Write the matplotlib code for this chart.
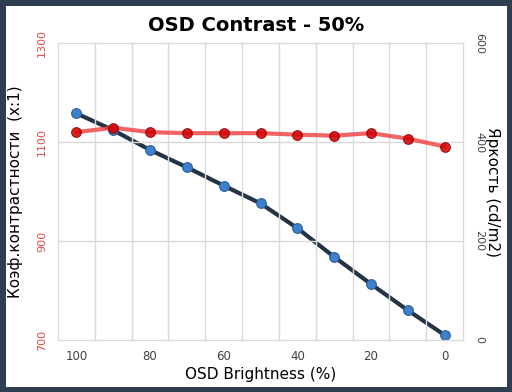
import numpy as np
import matplotlib.pyplot as plt
from matplotlib.patches import Rectangle

# OSD Contrast 50% - contrast ratio and brightness vs OSD brightness
brightness_setting = ["100", "90", "80", "70", "60", "50", "40", "30", "20", "10", "0"]
contrast = [1120, 1129, 1120, 1118, 1118, 1118, 1115, 1113, 1118, 1107, 1091]
luminance = [458, 424, 384, 349, 312, 276, 226, 168, 113, 60, 10]

fig = plt.figure(figsize=(5.12, 3.92), dpi=100)
ax = fig.add_axes([0.1133, 0.1327, 0.7910, 0.7573])
ax2 = ax.twinx()

x = np.arange(len(brightness_setting))

ax.plot(x, contrast, color="#f04848", lw=3, alpha=0.85, zorder=3,
        marker="o", ms=7, mfc="#d00000", mec="#900000", mew=0.8)
ax2.plot(x, luminance, color="#243444", lw=3, zorder=3,
         marker="o", ms=7, mfc="#3f80cc", mec="#2a5f9f", mew=0.8)

ax.set_xlim(-0.5, len(x) - 0.5)
ax.set_ylim(700, 1300)
ax2.set_ylim(0, 600)
ax.set_xticks(x)
ax.set_xticklabels(["100", "", "80", "", "60", "", "40", "", "20", "", "0"])
ax.set_yticks([700, 900, 1100, 1300])
ax2.set_yticks([0, 200, 400, 600])

# grid: vertical lines between categories, horizontal on major ticks
for b in np.arange(0.5, len(x) - 0.5):
    ax.axvline(b, color="#d9d9d9", lw=1, zorder=0)
for v in [900, 1100]:
    ax.axhline(v, color="#d9d9d9", lw=1, zorder=0)

for a in (ax, ax2):
    for s in a.spines.values():
        s.set_color("#d9d9d9")
    a.tick_params(length=0)
ax.set_zorder(ax2.get_zorder() + 1)
ax.patch.set_visible(False)

ax.tick_params(axis="y", labelsize=8, labelcolor="#e04848", pad=8)
for t in ax.get_yticklabels():
    t.set_rotation(90)
    t.set_va("center")
ax2.tick_params(axis="y", labelsize=8, labelcolor="#3a4552", pad=8)
for t in ax2.get_yticklabels():
    t.set_rotation(270)
    t.set_va("center")
ax.tick_params(axis="x", labelsize=8.5, labelcolor="#404040", pad=7)

ax.set_xlabel("OSD Brightness (%)", fontsize=11, labelpad=3)
ax.set_ylabel("Коэф.контрастности  (x:1)", fontsize=11, va="center")
ax.yaxis.set_label_coords(-0.106, 0.5)
ax2.set_ylabel("Яркость (cd/m2)", fontsize=11, rotation=270, va="center")
ax2.yaxis.set_label_coords(1.072, 0.5)
fig.text(0.5, 0.935, "OSD Contrast - 50%", ha="center", va="center",
         fontsize=14, fontweight="bold")

# dark frame around the figure
fig.patches.append(Rectangle((0.004, 0.005), 0.992, 0.99, transform=fig.transFigure,
                             fill=False, ec="#2e3d4f", lw=5))

fig.savefig("out.png", dpi=100)
